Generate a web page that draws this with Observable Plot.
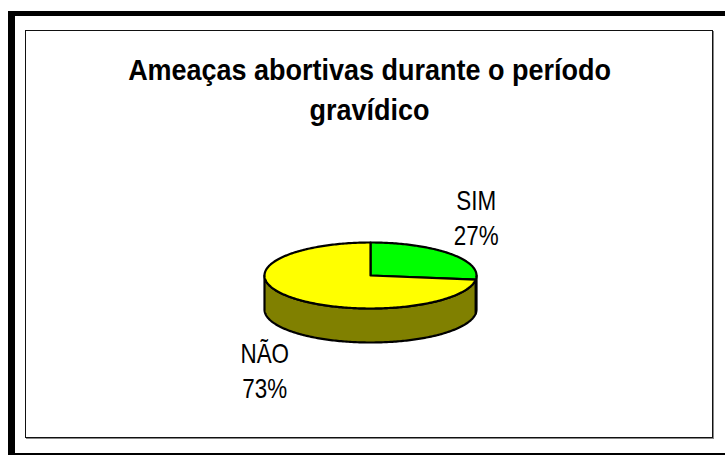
<!DOCTYPE html>
<html><head><meta charset="utf-8">
<script src="https://cdn.jsdelivr.net/npm/d3@7"></script>
<script src="https://cdn.jsdelivr.net/npm/@observablehq/plot@0.6"></script>
<style>
html,body{margin:0;padding:0;background:#fff;}
#wrap{position:relative;width:725px;height:455px;overflow:hidden;background:#fff;}
#outer{position:absolute;left:8px;top:11px;width:900px;height:448px;box-sizing:border-box;border-style:solid;border-color:#000;border-width:5px 6px 6px 7px;}
#inner{position:absolute;left:25px;top:30px;width:688px;height:408px;box-sizing:border-box;border:1px solid #111;box-shadow:1px 1px 0 #888;}
#chart{position:absolute;left:0;top:0;}
</style></head><body>
<div id="wrap"><div id="outer"></div><div id="inner"></div><div id="chart"></div></div>
<script>
// ---- data ----
const titleLines = ["Ameaças abortivas durante o período", "gravídico"];
const categories = ["SIM", "NÃO"];
const percents = [27, 73];
const topColors = ["#00ff00", "#ffff00"];
const sideColors = ["#008000", "#808000"];

// ---- layout ----
const W = 725, H = 455;
const cx = 370, cy = 275, rx = 106, ry = 33, depth = 34;
const labelRx = 141, labelRy = 90;
const titleX = 369, titleY = 79, titleGap = 40;
const font = "'Liberation Sans', Arial, sans-serif";

const TAU = Math.PI * 2;
const total = d3.sum(percents);
let acc = 0;
const slices = categories.map((c, i) => {
  const a0 = acc / total * TAU; acc += percents[i]; const a1 = acc / total * TAU;
  return {c, p: percents[i], a0, a1, top: topColors[i], side: sideColors[i]};
});
const pt = (a, dz = 0) => ({x: cx + rx * Math.sin(a), y: cy - ry * Math.cos(a) + dz});
const arc = (a0, a1, dz) => {
  const n = Math.max(2, Math.ceil((a1 - a0) / (Math.PI / 180)));
  return d3.range(n + 1).map(k => pt(a0 + (a1 - a0) * k / n, dz));
};

const marks = [];
const lineOpts = {x: "x", y: "y", curve: "linear-closed", stroke: "#000", strokeWidth: 2.2, strokeLinejoin: "round"};
for (const s of slices) {
  const s0 = Math.max(s.a0, Math.PI / 2), s1 = Math.min(s.a1, 3 * Math.PI / 2);
  if (s1 > s0) {
    const poly = [...arc(s0, s1, 0), ...arc(s0, s1, depth).reverse()];
    marks.push(Plot.line(poly, {...lineOpts, fill: s.side}));
  }
}
for (const s of slices) {
  const poly = [{x: cx, y: cy}, ...arc(s.a0, s.a1, 0)];
  marks.push(Plot.line(poly, {...lineOpts, fill: s.top}));
}

const titleRows = titleLines.map((t, i) => ({text: t, x: titleX, y: titleY + titleGap * i}));
const labelRows = slices.map(s => {
  const m = (s.a0 + s.a1) / 2;
  return {text: `${s.c}\n${s.p}%`, x: cx + labelRx * Math.sin(m), y: cy - labelRy * Math.cos(m) + (Math.cos(m) < 0 ? depth : 0)};
});

marks.push(Plot.text(titleRows, {x: "x", y: "y", text: "text", textAnchor: "middle", lineAnchor: "bottom", fontSize: 30, fontWeight: "bold", fontFamily: font, fill: "#000"}));
marks.push(Plot.text(labelRows, {x: "x", y: "y", text: "text", textAnchor: "middle", lineAnchor: "middle", lineHeight: 1.31, fontSize: 27, fontFamily: font, fill: "#000"}));

const svg = Plot.plot({
  width: W, height: H, margin: 0,
  x: {type: "identity", axis: null},
  y: {type: "identity", axis: null},
  style: {background: "transparent", overflow: "visible"},
  marks
});
document.getElementById("chart").appendChild(svg);

// horizontal condensing of the text, as in the original
const groups = svg.querySelectorAll('g[aria-label="text"]');
const scales = [0.9, 0.83];
groups.forEach((g, gi) => {
  g.querySelectorAll("text").forEach(t => {
    const tr = t.getAttribute("transform") || "";
    const x = +(t.getAttribute("x") || 0), y = +(t.getAttribute("y") || 0);
    t.setAttribute("transform", `${tr} translate(${x},${y}) scale(${scales[gi]},1) translate(${-x},${-y})`);
  });
});
</script>
</body></html>
